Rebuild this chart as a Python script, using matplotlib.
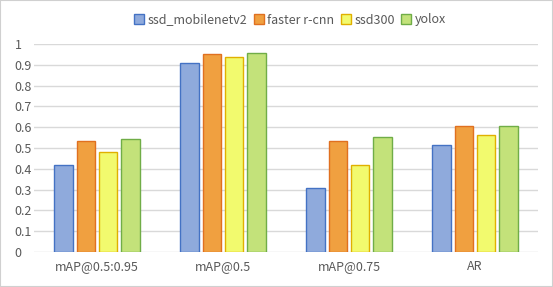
import matplotlib.pyplot as plt
import numpy as np
from matplotlib.patches import Rectangle

plt.rcParams['font.family'] = ['Noto Sans CJK SC', 'DejaVu Sans']

categories = ['mAP@0.5:0.95', 'mAP@0.5', 'mAP@0.75', 'AR']
models = ['ssd_mobilenetv2', 'faster r-cnn', 'ssd300', 'yolox']
ssd_mobilenetv2 = [0.42, 0.907, 0.306, 0.513]
faster_rcnn = [0.532, 0.95, 0.532, 0.604]
ssd300 = [0.479, 0.936, 0.42, 0.561]
yolox = [0.543, 0.955, 0.551, 0.604]
series = [ssd_mobilenetv2, faster_rcnn, ssd300, yolox]

fills = ['#8FAADC', '#F0A040', '#F2FA6E', '#C3E27A']
edges = ['#4472C4', '#E07020', '#E0B000', '#70AD47']

fig = plt.figure(figsize=(5.53, 2.87), dpi=100)
ax = fig.add_axes([34 / 553, 1 - 252 / 287, 504 / 553, 208 / 287])

x = np.arange(len(categories))
width = 0.15
step = 0.175
for i, (vals, name) in enumerate(zip(series, models)):
    ax.bar(x + (i - 1.5) * step, vals, width, color=fills[i], edgecolor=edges[i],
           linewidth=1, label=name, zorder=3)

ax.set_xlim(-0.5, len(categories) - 0.5)
ax.set_ylim(0, 1)
ax.set_yticks(np.arange(0, 1.01, 0.1))
ax.set_yticklabels(['0', '0.1', '0.2', '0.3', '0.4', '0.5', '0.6', '0.7', '0.8', '0.9', '1'])
ax.set_xticks(x)
ax.set_xticklabels(categories)
ax.tick_params(axis='both', length=0, labelsize=9, colors='#595959', pad=6)
ax.tick_params(axis='y', pad=14)
for lbl in ax.get_yticklabels():
    lbl.set_horizontalalignment('left')
ax.yaxis.grid(True, color='#D9D9D9', linewidth=1, zorder=0)
for s in ax.spines.values():
    s.set_visible(False)

leg = fig.legend(loc='center', bbox_to_anchor=(290 / 553, 1 - 20 / 287), ncol=4, frameon=False,
                 fontsize=9, handlelength=0.8, handleheight=0.8, handletextpad=0.3,
                 columnspacing=0.5, labelcolor='#595959')

fig.patches.append(Rectangle((0, 0), 1, 1, transform=fig.transFigure, fill=False,
                             edgecolor='#D0D0D0', linewidth=1.5))

fig.savefig('out.png', dpi=100)
